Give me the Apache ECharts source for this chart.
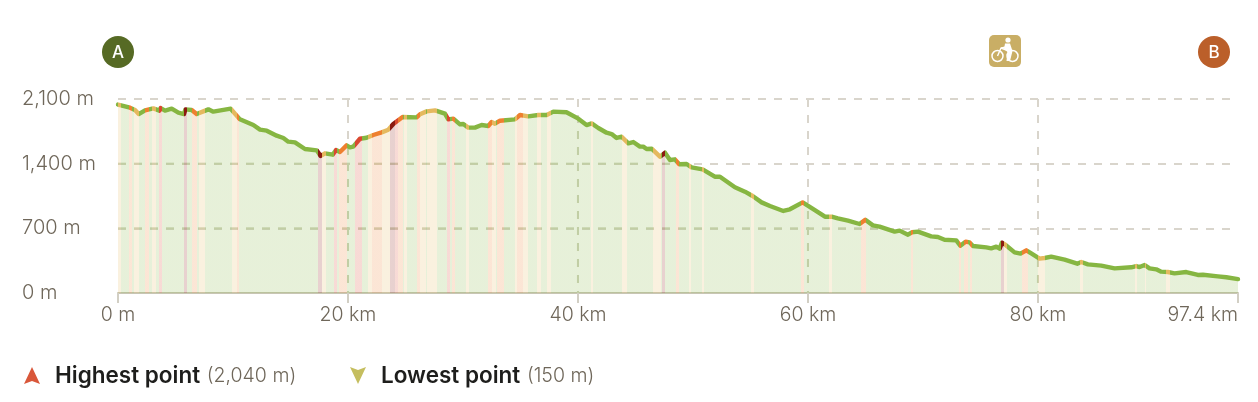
<!DOCTYPE html>
<html>
<head>
<meta charset="utf-8">
<style>
  html,body{margin:0;padding:0;background:#fff;}
  #main{width:1258px;height:402px;}
</style>
<script src="https://cdn.jsdelivr.net/npm/echarts@6/dist/echarts.min.js"></script>
</head>
<body>
<div id="main"></div>
<script>
var totalKm = 97.4;
var highestPoint = 2040;
var lowestPoint = 150;

// profile points
var km = [0,1.04,1.48,1.8,2.35,3.07,3.6,3.71,4.09,4.67,5.25,5.74,5.86,6.41,6.84,7.42,7.86,8.29,9.8,10.6,
  11.77,12.35,12.93,13.8,14.38,14.81,15.39,16.26,17.28,17.62,18,18.67,18.96,19.3,19.88,20.17,20.46,21.04,21.62,22.2,
  22.93,23.51,23.94,24.75,25.97,26.26,26.84,27.57,28.43,28.72,29.16,29.74,30.03,30.46,31.04,31.62,32.2,32.49,32.78,33.22,
  34.52,34.96,35.68,36.55,37.28,37.86,39,40.03,40.75,41.19,41.77,42.49,42.93,43.36,43.8,44.38,44.81,45.39,45.68,45.97,
  46.41,47.13,47.57,48,48.43,48.81,49.45,49.88,50.84,51.9,52.35,53.65,54.52,55.19,55.97,56.7,57.86,58.43,59.54,60.6,
  61.48,62.06,62.6,63.48,64.49,64.99,65.65,66.23,67.54,67.97,68.7,69.04,69.57,70.72,71.3,71.88,72.9,73.25,73.71,74.06,
  74.35,75.51,75.94,76.38,76.67,76.87,77.19,77.97,78.49,78.99,79.42,80.14,80.58,81.16,82.32,83.42,83.77,84.35,85.51,86.67,
  88.12,88.55,88.84,89.28,89.71,90.29,90.72,91.3,91.88,92.9,93.91,94.35,95.65,96.38,97.4];
var elevation = [2040,2006,1981,1937,1977,1999,1974,2002,1974,1995,1952,1937,1988,1981,1937,1966,1988,1963,1995,1880,
  1818,1768,1757,1703,1678,1638,1631,1559,1544,1483,1512,1497,1548,1526,1598,1577,1584,1670,1681,1710,
  1739,1768,1829,1905,1901,1934,1966,1977,1941,1880,1887,1826,1829,1790,1790,1818,1808,1851,1833,1865,
  1880,1927,1912,1927,1927,1963,1956,1887,1818,1836,1786,1735,1721,1678,1692,1620,1634,1584,1584,1559,
  1562,1476,1519,1440,1447,1393,1396,1360,1339,1259,1259,1144,1097,1050,981,942,888,906,981,898,
  826,826,808,783,747,794,732,718,664,675,631,657,664,613,606,577,570,512,556,548,
  509,494,483,502,480,545,520,440,426,462,429,372,379,393,361,317,336,310,296,267,
  278,292,281,303,267,256,231,227,213,227,195,198,180,170,150];

// stretches of the route coloured by steepness [from km, to km]
var yellowBands = [[0,0.3],[1.42,1.83],[2.99,3.28],[7.01,7.57],[9.94,10.32],[17.77,18.09],[21.77,22.06],[22.93,23.65],[24.87,25.16],
  [26.26,26.78],[26.84,27.71],[30.26,30.52],[32.52,32.84],[34.49,34.72],[35.19,35.62],[36.41,36.78],[37.3,37.65],[41.13,41.3],
  [43.8,44.26],[46.55,47.19],[49.65,49.83],[50.75,50.96],[55.07,55.28],[61.86,62.12],[77.04,77.33],[79.99,80.58],[83.62,83.91],
  [88.43,88.64],[89.3,89.42],[91.16,91.45]];
var orangeBands = [[0.99,1.25],[2.38,2.72],[6.43,6.84],[10.32,10.55],[19.25,19.88],[22.06,22.93],[24.38,24.81],[25.97,26.26],
  [29.07,29.3],[32.17,32.52],[32.99,33.57],[34.72,35.19],[48.49,48.75],[59.42,59.62],[64.64,65.01],[68.93,69.16],[73.17,73.3],[73.59,73.88],[74.12,74.26],[78.61,79.1]];
var redBands = [[3.54,3.8],[18.81,19.07],[20.64,21.19],[24.09,24.38],[28.58,28.84]];
var darkBands = [[5.74,5.97],[17.42,17.71],[23.65,24.09],[47.3,47.57],[76.75,77.01]];

// the dashed grid shows darker inside the filled area: [x from, y from, x to, y to]
var shadeLines = [[0,1400,48.7,1400],[0,700,66.3,700],[20,1580.4,20,0],[40,1753.6,40,0],[60,887.6,60,0],[80,368,80,0]];

var green = '#86b642', yellow = '#e5b95f', orange = '#ee802f', red = '#d9482f', dark = '#8b1a10';
var textGrey = '#6f675a', gridColor = '#d9d5cc', shadeColor = '#d0d4bd', axisColor = '#c8c6b4';
var fontName = 'Inter';

function bandPieces(bands, color){
  return bands.map(function (b){
    return {gte:b[0], lt:b[1], color:color};
  });
}

var myChart = echarts.init(document.getElementById('main'));
var points = km.map(function (k, i){ return [k, elevation[i]]; });

var series = [{
  type:'line', data:points, showSymbol:false, smooth:false, z:3,
  lineStyle:{width:4.4, cap:'round', join:'round'},
  areaStyle:{opacity:0.2},
  silent:true
}];
shadeLines.forEach(function (s){
  series.push({
    type:'line', data:[[s[0], s[1]], [s[2], s[3]]], showSymbol:false, z:2, silent:true,
    lineStyle:{color:shadeColor, width:2, type:[8,8]}
  });
});

var option = {
  animation:false,
  grid:{left:118, right:20, top:99, bottom:109},
  xAxis:{
    type:'value', min:0, max:totalKm, interval:20,
    axisLine:{lineStyle:{color:axisColor, width:2}},
    axisTick:{show:true, length:10, lineStyle:{color:'#d2cfc4', width:2}},
    axisLabel:{
      color:textGrey, fontFamily:fontName, fontWeight:300, fontSize:19.5, margin:12, alignMaxLabel:'right',
      formatter:function (v){ return v === 0 ? '0 m' : v + ' km'; }
    },
    splitLine:{show:true, showMinLine:false, showMaxLine:false, lineStyle:{color:gridColor, width:2, type:[8,8]}}
  },
  yAxis:{
    type:'value', min:0, max:2100, interval:700,
    axisLine:{show:false}, axisTick:{show:false},
    axisLabel:{
      color:textGrey, fontFamily:fontName, fontWeight:300, fontSize:20, margin:96, align:'left',
      formatter:function (v){ return v.toLocaleString('en-US') + ' m'; }
    },
    splitLine:{show:true, showMinLine:false, lineStyle:{color:gridColor, width:2, type:[8,8]}}
  },
  visualMap:{
    show:false, type:'piecewise', seriesIndex:0, dimension:0,
    pieces:[].concat(bandPieces(yellowBands, yellow), bandPieces(orangeBands, orange), bandPieces(redBands, red), bandPieces(darkBands, dark)),
    outOfRange:{color:green}
  },
  series:series,
  graphic:[
    {type:'circle', shape:{cx:118, cy:52, r:16}, style:{fill:'#566a24'}},
    {type:'text', x:118, y:53, style:{text:'A', fill:'#fff', font:'500 17px ' + fontName, align:'center', verticalAlign:'middle'}},
    {type:'circle', shape:{cx:1214, cy:52, r:16}, style:{fill:'#bb5f2a'}},
    {type:'text', x:1214, y:53, style:{text:'B', fill:'#fff', font:'500 17px ' + fontName, align:'center', verticalAlign:'middle'}},
    // bike stop sign
    {type:'rect', shape:{x:989, y:35, width:32, height:32, r:5}, style:{fill:'#c9ae65'}},
    {type:'circle', shape:{cx:997.5, cy:56, r:5.5}, style:{fill:null, stroke:'#fff', lineWidth:1.5}},
    {type:'circle', shape:{cx:1012.5, cy:56, r:5.5}, style:{fill:null, stroke:'#fff', lineWidth:1.5}},
    {type:'circle', shape:{cx:1008, cy:40, r:2.6}, style:{fill:'#fff'}},
    {type:'polygon', shape:{points:[[1005,43.5],[1010,43.5],[1012.5,51],[1010,61],[1006.5,61],[1007.5,52],[1004,49]]}, style:{fill:'#fff'}},
    {type:'polyline', shape:{points:[[997.5,56],[1001,48],[1010,46]]}, style:{fill:null, stroke:'#fff', lineWidth:1.4}},
    {type:'polyline', shape:{points:[[1001,48],[1009,51]]}, style:{fill:null, stroke:'#fff', lineWidth:1.4}},
    // legend
    {type:'polygon', shape:{points:[[32,367],[40,384],[32,381],[24,384]]}, style:{fill:'#d9573a'}},
    {type:'text', x:55, y:376, style:{
      text:'{a|Highest point}  {b|(' + highestPoint.toLocaleString('en-US') + ' m)}', verticalAlign:'middle',
      rich:{a:{font:'600 22.5px ' + fontName, fill:'#1e1e1c'}, b:{font:'300 19.5px ' + fontName, fill:textGrey}}
    }},
    {type:'polygon', shape:{points:[[358,384],[350,367],[358,370],[366,367]]}, style:{fill:'#c5be5f'}},
    {type:'text', x:381, y:376, style:{
      text:'{a|Lowest point}  {b|(' + lowestPoint + ' m)}', verticalAlign:'middle',
      rich:{a:{font:'600 22.5px ' + fontName, fill:'#1e1e1c'}, b:{font:'300 19.5px ' + fontName, fill:textGrey}}
    }}
  ]
};
myChart.setOption(option);
</script>
</body>
</html>
